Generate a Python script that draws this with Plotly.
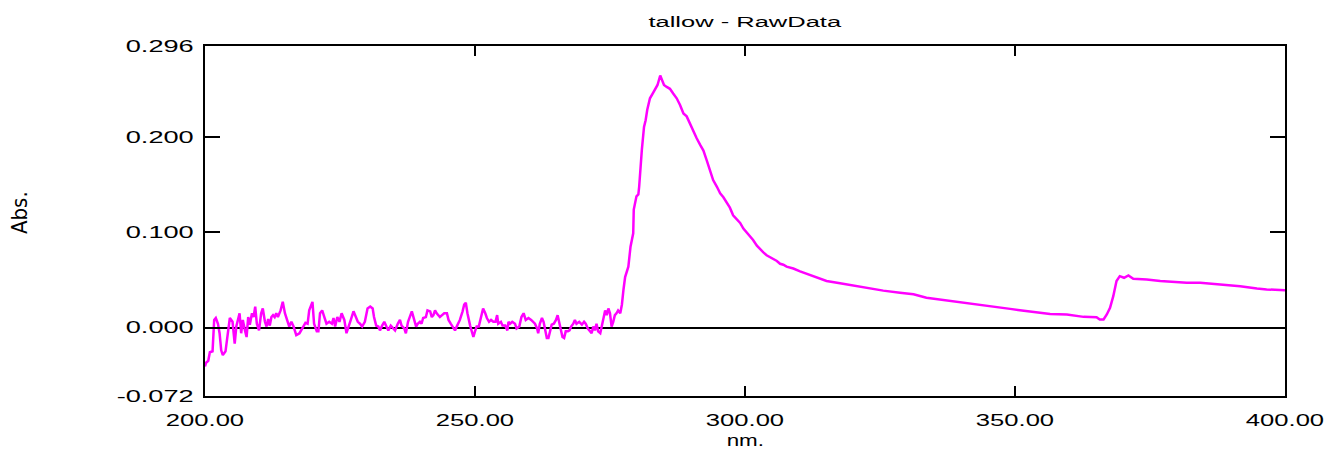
import plotly.graph_objects as go

# ---- data ----
wavelength_nm = [
    200.0, 200.2, 200.6, 200.9, 201.4, 201.7, 202.0, 202.4, 202.7, 203.0, 203.3, 203.8, 204.3, 204.6,
    205.1, 205.5, 205.8, 206.1, 206.4, 206.7, 207.0, 207.4, 207.7, 208.0, 208.3, 208.7, 209.0, 209.3,
    209.6, 210.0, 210.4, 210.7, 211.1, 211.4, 211.7, 212.0, 212.3, 212.6, 212.9, 213.2, 213.5, 214.0,
    214.4, 214.8, 215.2, 215.6, 216.0, 216.4, 216.9, 217.5, 218.2,
    218.6, 219.0, 219.3, 219.9, 220.2, 220.7, 221.0, 221.3, 221.7, 222.1, 222.5, 223.0, 223.5, 223.8,
    224.1, 224.5, 224.9, 225.3, 225.8, 226.2, 226.5, 227.0, 227.5, 227.9, 228.3, 228.7, 229.1, 229.6,
    230.1, 230.6, 231.05, 231.3, 231.7, 232.1, 232.4, 232.8, 233.2, 233.6, 233.95, 234.4, 234.8, 235.2,
    235.7, 236.1, 236.4, 236.9, 237.2, 237.6,
    238.3, 238.8, 239.1, 239.4, 239.8, 240.1, 240.4, 240.9, 241.2, 241.7, 242.0, 242.3, 242.6, 242.9,
    243.2, 243.5, 243.9, 244.3, 244.8, 245.1, 245.5, 246.0, 246.3, 246.7, 247.2, 247.7, 248.0, 248.3,
    248.6, 249.1, 249.4, 249.7, 250.0, 250.3, 250.7, 251.1, 251.5, 251.9, 252.2, 252.6, 252.97, 253.4,
    253.8, 254.1, 254.3, 254.8, 255.1, 255.6, 256.0,
    256.2, 256.5, 256.9, 257.4, 257.7, 258.2, 258.6, 259.0, 259.4, 259.9, 260.4, 260.8, 261.1, 261.5,
    261.7, 262.0, 262.4, 262.7, 263.0, 263.3, 263.6, 263.9, 264.2, 264.6, 265.0, 265.3, 265.6, 265.9,
    266.2, 266.5, 266.8, 267.2, 267.5, 267.8, 268.2, 268.5, 268.8, 269.3, 269.8, 270.2, 270.5, 270.9,
    271.3, 271.6, 271.9, 272.2, 272.5, 272.8, 273.2, 273.5, 273.8, 274.1, 274.4, 274.7, 275.0, 275.3,
    275.6, 275.9, 276.2, 276.5, 276.9, 277.2, 277.5,
    277.8, 278.4, 278.8, 279.3, 279.4, 279.9, 280.25, 280.4, 280.6, 280.9, 281.3, 281.6, 281.9, 282.4,
    282.9, 283.3, 283.8, 284.3, 284.6, 285.0, 285.5, 286.1, 286.7, 287.35, 287.97, 288.6, 289.2, 289.8,
    290.4, 291.05, 291.7, 292.3, 292.9, 293.5, 294.1, 294.8, 295.4, 296.0, 296.6, 297.2, 297.8, 298.5,
    299.1, 299.7, 300.3, 300.9, 301.5, 302.2, 302.8, 303.4, 304.0, 304.6, 305.2, 305.9, 306.5, 307.1,
    307.7, 308.3, 308.95, 310.2, 312.7, 315.1, 317.6, 320.1, 322.5, 325.6, 328.7, 331.2, 333.6, 336.1,
    338.6, 341.05, 343.5, 346.0, 347.2, 349.1, 350.9, 353.4, 356.5, 359.6, 362.7, 365.1, 365.7, 366.4,
    367.0, 367.6, 368.2, 368.8, 369.4, 370.2, 371.0, 371.9, 374.4, 376.9, 379.3, 381.8, 384.3, 388.0,
    391.7, 394.8, 396.6, 400.0,
]
absorbance = [
    -0.041, -0.037, -0.035, -0.026, -0.025, 0.008, 0.010, 0.004, -0.006, -0.024, -0.029, -0.025, -0.003, 0.010,
    0.006, -0.017, 0.001, 0.008, 0.015, -0.006, 0.008, -0.003, -0.010, 0.011, 0.003, 0.015, 0.011, 0.022,
    0.004, -0.003, 0.015, 0.020, 0.006, 0.001, 0.009, 0.002, 0.011, 0.013, 0.011, 0.015, 0.011, 0.018,
    0.027, 0.015, 0.008, 0.001, 0.006, 0.001, -0.008, -0.006, 0.001,
    0.005, 0.004, 0.018, 0.027, 0.004, -0.004, -0.004, 0.015, 0.018, 0.011, 0.004, 0.006, 0.004, 0.010,
    0.001, 0.011, 0.006, 0.015, 0.008, -0.006, 0.000, 0.008, 0.017, 0.011, 0.006, 0.004, 0.001, 0.006,
    0.020, 0.022, 0.020, 0.011, 0.002, 0.001, -0.003, 0.002, 0.006, 0.001, -0.003, 0.002, -0.001, -0.003,
    0.004, 0.008, 0.002, -0.001, -0.006, 0.006,
    0.017, 0.008, 0.001, 0.004, 0.006, 0.004, 0.010, 0.011, 0.018, 0.017, 0.011, 0.013, 0.018, 0.015,
    0.013, 0.011, 0.013, 0.015, 0.015, 0.008, 0.004, 0.000, -0.003, 0.002, 0.008, 0.017, 0.024, 0.026,
    0.015, 0.002, -0.004, -0.010, -0.004, 0.001, 0.001, 0.010, 0.020, 0.015, 0.010, 0.006, 0.008, 0.006,
    0.006, 0.013, 0.004, 0.006, 0.002, 0.002, -0.003,
    0.006, 0.004, 0.006, 0.004, -0.001, 0.001, 0.011, 0.015, 0.008, 0.010, 0.008, 0.006, 0.004, -0.001,
    -0.006, 0.004, 0.010, 0.006, -0.001, -0.011, -0.011, -0.003, 0.003, 0.004, 0.008, 0.013, 0.006, -0.003,
    -0.010, -0.011, -0.004, -0.004, -0.003, 0.001, 0.004, 0.008, 0.004, 0.006, 0.003, 0.006, 0.004, -0.001,
    -0.004, -0.006, 0.001, -0.003, 0.004, -0.004, -0.006, 0.001, 0.010, 0.018, 0.013, 0.020, 0.015, 0.001,
    0.006, 0.013, 0.015, 0.018, 0.015, 0.024, 0.040,
    0.053, 0.064, 0.085, 0.099, 0.124, 0.138, 0.140, 0.148, 0.166, 0.187, 0.211, 0.218, 0.229, 0.241,
    0.246, 0.250, 0.255, 0.265, 0.260, 0.255, 0.253, 0.251, 0.246, 0.241, 0.234, 0.225, 0.222, 0.214,
    0.208, 0.199, 0.192, 0.186, 0.176, 0.166, 0.155, 0.148, 0.141, 0.137, 0.131, 0.126, 0.118, 0.114,
    0.110, 0.104, 0.100, 0.095, 0.092, 0.086, 0.082, 0.079, 0.076, 0.074, 0.072, 0.070, 0.067, 0.066,
    0.064, 0.063, 0.062, 0.059, 0.054, 0.049, 0.0466, 0.044, 0.042, 0.0388, 0.0366, 0.0349, 0.0314, 0.0296,
    0.0272, 0.0261, 0.0237, 0.0219, 0.0210, 0.0196, 0.0182, 0.0165, 0.0143, 0.0137, 0.0112, 0.0109, 0.0084, 0.0084,
    0.0137, 0.0207, 0.0330, 0.0488, 0.0540, 0.0523, 0.0547, 0.0512, 0.0505, 0.0488, 0.0477, 0.0470, 0.0470, 0.0452,
    0.0435, 0.0410, 0.0400, 0.0393,
]

x_tick_values = [200, 250, 300, 350, 400]
x_tick_labels = ["200.00", "250.00", "300.00", "350.00", "400.00"]
y_tick_values = [-0.072, 0.0, 0.1, 0.2, 0.296]
y_tick_labels = ["-0.072", "0.000", "0.100", "0.200", "0.296"]

title_text = "tallow - RawData"
x_title = "nm."
y_title = "Abs."

# ---- figure ----
W, H = 1325, 450
L, R, T, B = 205, 40, 46, 54
plot_h = H - T - B
plot_w = W - L - R

tick_font = dict(family="Liberation Sans, Arial, sans-serif", size=16, color="black")

fig = go.Figure(
    go.Scatter(
        x=wavelength_nm, y=absorbance, mode="lines",
        line=dict(color="#FF00FF", width=2.5),
        showlegend=False, hoverinfo="skip",
    )
)

fig.update_layout(
    width=W, height=H,
    margin=dict(l=L, r=R, t=T, b=B, pad=0),
    paper_bgcolor="white", plot_bgcolor="white",
    title=dict(
        text=title_text, x=0.5, xref="paper", xanchor="center",
        y=1 - 22 / H, yref="container", yanchor="middle",
        font=dict(family="Liberation Sans, Arial, sans-serif", size=15, color="black"),
    ),
    xaxis=dict(
        range=[200, 400], tickmode="array", tickvals=x_tick_values, ticktext=x_tick_labels,
        ticks="inside", ticklen=10, tickwidth=2, tickcolor="black",
        showline=True, linewidth=2, linecolor="black", mirror="ticks",
        showgrid=False, zeroline=False, tickfont=tick_font, ticklabelstandoff=9,
    ),
    yaxis=dict(
        range=[-0.072, 0.296], tickmode="array", tickvals=y_tick_values, ticktext=y_tick_labels,
        ticks="inside", ticklen=15, tickwidth=2, tickcolor="black",
        showline=True, linewidth=2, linecolor="black", mirror="ticks",
        showgrid=False, zeroline=True, zerolinecolor="black", zerolinewidth=2,
        tickfont=tick_font, ticklabelstandoff=6,
    ),
    annotations=[
        dict(text=x_title, xref="paper", yref="paper", x=0.5, y=(T + plot_h - 440) / plot_h,
             xanchor="center", yanchor="middle", showarrow=False,
             font=dict(family="Liberation Sans, Arial, sans-serif", size=16, color="black")),
        dict(text=y_title, xref="paper", yref="paper", x=(20 - L) / plot_w, y=(T + plot_h - 213) / plot_h,
             xanchor="center", yanchor="middle", showarrow=False, textangle=-90,
             font=dict(family="Liberation Sans Narrow, DejaVu Sans Condensed, sans-serif", size=22, color="black")),
    ],
)

post = """
document.documentElement.style.margin = '0';
document.body.style.margin = '0';
document.body.style.padding = '0';
var gd = document.getElementById('{plot_id}');
function widen(sel, s){
  gd.querySelectorAll(sel).forEach(function(el){
    var bb = el.getBBox();
    var anc = el.getAttribute('text-anchor') || 'start';
    var ax = bb.x;
    if (anc === 'middle') ax = bb.x + bb.width / 2;
    else if (anc === 'end') ax = bb.x + bb.width;
    var t = el.getAttribute('transform') || '';
    el.setAttribute('transform', t + ' translate(' + ax + ',0) scale(' + s + ',1) translate(' + (-ax) + ',0)');
  });
}
widen('.xtick text', 1.6);
widen('.ytick text', 1.7);
widen('.gtitle', 1.7);
gd.querySelectorAll('.annotation-text').forEach(function(el){
  if (el.textContent === 'nm.') {
    var bb = el.getBBox();
    var ax = bb.x + bb.width / 2;
    var t = el.getAttribute('transform') || '';
    el.setAttribute('transform', t + ' translate(' + ax + ',0) scale(1.4,1) translate(' + (-ax) + ',0)');
  }
});
"""

fig.write_html("out.html", config={"responsive": False, "displayModeBar": False}, post_script=post)
